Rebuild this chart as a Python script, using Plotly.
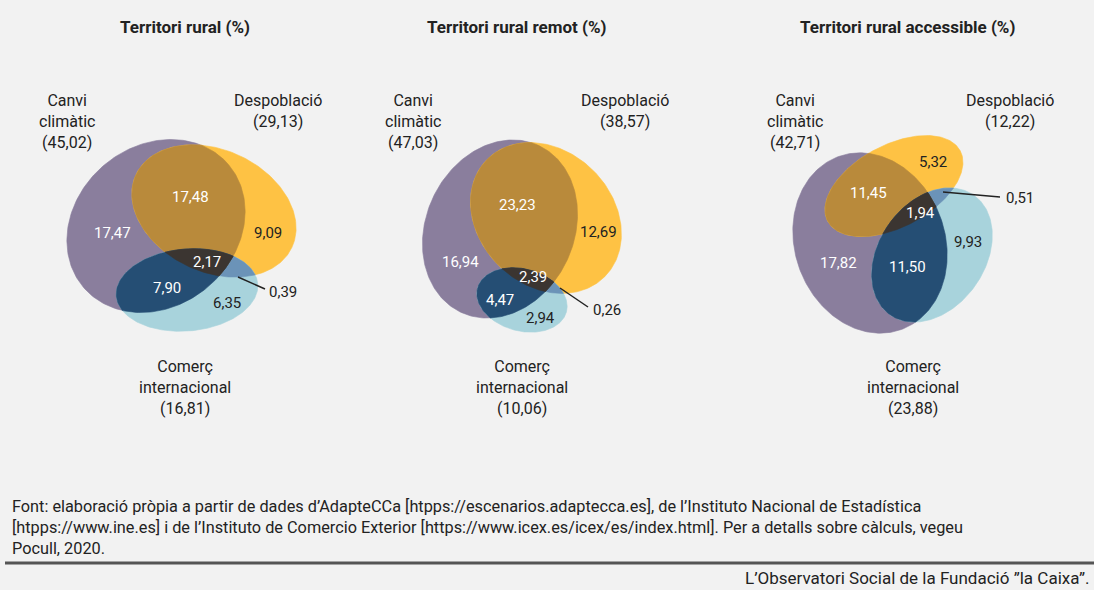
import numpy as np
import plotly.graph_objects as go

W, H = 1094, 590
BG = "#f2f2f2"
FONT = "Roboto, 'Liberation Sans', Arial, sans-serif"

# ---------------- data ----------------
titles = ["Territori rural (%)", "Territori rural remot (%)", "Territori rural accessible (%)"]
set_names = ["Canvi<br>climàtic", "Despoblació", "Comerç<br>internacional"]
total_clim = [45.02, 47.03, 42.71]
total_desp = [29.13, 38.57, 12.22]
total_com = [16.81, 10.06, 23.88]

only_clim = [17.47, 16.94, 17.82]
clim_desp = [17.48, 23.23, 11.45]
only_desp = [9.09, 12.69, 5.32]
all_three = [2.17, 2.39, 1.94]
desp_com = [0.39, 0.26, 0.51]
clim_com = [7.90, 4.47, 11.50]
only_com = [6.35, 2.94, 9.93]

source_text = ("Font: elaboració pròpia a partir de dades d’AdapteCCa [htpps://escenarios.adaptecca.es], "
               "de l’Instituto Nacional de Estadística<br>[htpps://www.ine.es] i de l’Instituto de Comercio "
               "Exterior [https://www.icex.es/icex/es/index.html]. Per a detalls sobre càlculs, vegeu<br>Pocull, 2020.")
credit_text = "L’Observatori Social de la Fundació ”la Caixa”."

# ---------------- geometry / style ----------------
COL = {"C": "#8a7e9d", "D": "#fec244", "I": "#a8d3dc",
       "CD": "#b98a3b", "CI": "#254e74", "DI": "#6b93b8", "CDI": "#3b3531"}
WHITE, DARK = "#ffffff", "#222222"

# ellipses per panel: (cx, cy, a, b, theta_deg)
ellipses = [
    {"C": (156, 226, 95, 80, -40), "D": (214, 211, 86, 61, 25), "I": (187, 290, 71, 41, -5)},
    {"C": (500, 229, 92, 74, -65), "D": (546, 218, 83, 67, 45), "I": (522, 300, 46, 31, 15)},
    {"C": (870, 243, 92, 75, 70), "D": (894, 186, 75, 41, -28), "I": (932, 255, 73, 53, -55)},
]
title_pos = [(185, 27), (517, 27), (907, 27)]
name_pos = [
    {"C": (67, 121), "D": (278, 111), "I": (185, 387)},
    {"C": (413, 121), "D": (625, 111), "I": (522, 387)},
    {"C": (795, 121), "D": (1010, 111), "I": (913, 387)},
]
region_pos = [
    {"oc": (112, 233), "cd": (190, 197), "od": (268, 233), "all": (207, 262), "ci": (167, 288), "oi": (227, 303)},
    {"oc": (460, 262), "cd": (517, 205), "od": (598, 232), "all": (533, 277), "ci": (500, 300), "oi": (540, 318)},
    {"oc": (838, 263), "cd": (868, 193), "od": (933, 162), "all": (920, 213), "ci": (907, 267), "oi": (968, 242)},
]
leader = [((238, 277), (265, 289), (283, 292)),
          ((560, 288), (588, 307), (607, 310)),
          ((943, 192), (1000, 197), (1020, 198))]


def fmt(v):
    return f"{v:.2f}".replace(".", ",")


def ellipse_pts(cx, cy, a, b, th, n=240):
    t = np.linspace(0, 2 * np.pi, n, endpoint=False)
    r = np.deg2rad(th)
    x = cx + a * np.cos(t) * np.cos(r) - b * np.sin(t) * np.sin(r)
    y = cy + a * np.cos(t) * np.sin(r) + b * np.sin(t) * np.cos(r)
    return list(zip(x, y))


def clip(subject, clipper):
    out = subject
    n = len(clipper)
    for i in range(n):
        if not out:
            break
        a = clipper[i]
        b = clipper[(i + 1) % n]

        def inside(p):
            return (b[0] - a[0]) * (p[1] - a[1]) - (b[1] - a[1]) * (p[0] - a[0]) >= 0

        def inter(p, q):
            x1, y1 = p; x2, y2 = q; x3, y3 = a; x4, y4 = b
            den = (x1 - x2) * (y3 - y4) - (y1 - y2) * (x3 - x4)
            if den == 0:
                return q
            tt = ((x1 - x3) * (y3 - y4) - (y1 - y3) * (x3 - x4)) / den
            return (x1 + tt * (x2 - x1), y1 + tt * (y2 - y1))

        inp = out
        out = []
        s = inp[-1]
        for e in inp:
            if inside(e):
                if not inside(s):
                    out.append(inter(s, e))
                out.append(e)
            elif inside(s):
                out.append(inter(s, e))
            s = e
    return out


fig = go.Figure()


def add_poly(pts, color):
    if not pts:
        return
    xs = [p[0] for p in pts] + [pts[0][0]]
    ys = [p[1] for p in pts] + [pts[0][1]]
    fig.add_trace(go.Scatter(x=xs, y=ys, mode="lines", fill="toself", fillcolor=color,
                             line=dict(width=0.6, color=color), hoverinfo="skip", showlegend=False))


for p in range(3):
    E = {k: ellipse_pts(*v) for k, v in ellipses[p].items()}
    add_poly(E["C"], COL["C"])
    add_poly(E["D"], COL["D"])
    add_poly(E["I"], COL["I"])
    add_poly(clip(E["D"], E["I"]), COL["DI"])
    add_poly(clip(E["C"], E["D"]), COL["CD"])
    add_poly(clip(E["C"], E["I"]), COL["CI"])
    add_poly(clip(clip(E["C"], E["D"]), E["I"]), COL["CDI"])

    # title
    fig.add_annotation(x=title_pos[p][0], y=title_pos[p][1], text=f"<b>{titles[p]}</b>",
                       showarrow=False, font=dict(size=17, color="#222", family=FONT))
    # set names
    totals = {"C": total_clim[p], "D": total_desp[p], "I": total_com[p]}
    for k, nm in zip(["C", "D", "I"], set_names):
        fig.add_annotation(x=name_pos[p][k][0], y=name_pos[p][k][1],
                           text=f"{nm}<br>({fmt(totals[k])})", showarrow=False,
                           font=dict(size=16, color="#222", family=FONT))
    # region values
    vals = {"oc": (only_clim[p], WHITE), "cd": (clim_desp[p], WHITE), "od": (only_desp[p], DARK),
            "all": (all_three[p], WHITE), "ci": (clim_com[p], WHITE), "oi": (only_com[p], DARK)}
    for k, (v, c) in vals.items():
        fig.add_annotation(x=region_pos[p][k][0], y=region_pos[p][k][1], text=fmt(v),
                           showarrow=False, font=dict(size=15, color=c, family=FONT))
    (x0, y0), (x1, y1), (lx, ly) = leader[p]
    fig.add_shape(type="line", x0=x0, y0=y0, x1=x1, y1=y1, line=dict(color="#222", width=1.5))
    fig.add_annotation(x=lx, y=ly, text=fmt(desp_com[p]), showarrow=False,
                       font=dict(size=15, color=DARK, family=FONT))

# footer
fig.add_annotation(x=10, y=527, text=source_text, showarrow=False, xanchor="left", yanchor="middle",
                   align="left", font=dict(size=16.3, color="#222", family=FONT))
fig.add_shape(type="line", x0=5, x1=W, y0=563, y1=563, line=dict(color="#555", width=3))
fig.add_annotation(x=1091, y=578, text=credit_text, showarrow=False, xanchor="right",
                   font=dict(size=17, color="#222", family=FONT))

fig.update_layout(
    width=W, height=H, margin=dict(l=0, r=0, t=0, b=0),
    paper_bgcolor=BG, plot_bgcolor=BG,
    xaxis=dict(range=[0, W], visible=False, fixedrange=True),
    yaxis=dict(range=[H, 0], visible=False, fixedrange=True),
    showlegend=False,
)
fig.write_html("out.html", config={"displayModeBar": False},
               post_script="document.body.style.margin='0';")
